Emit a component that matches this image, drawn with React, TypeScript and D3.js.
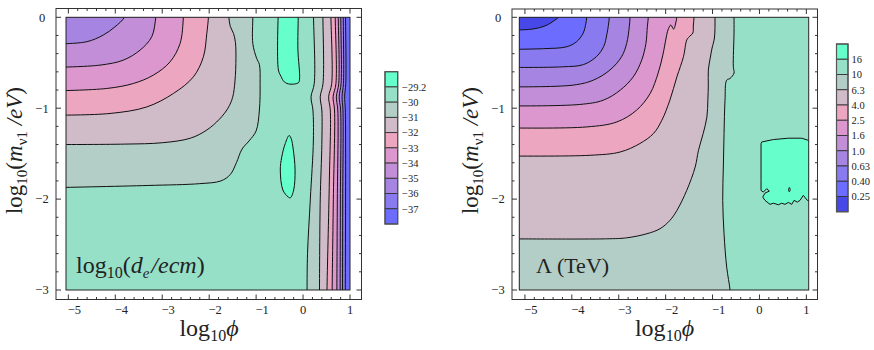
import React from 'react'
import * as d3 from 'd3'

type Pt = [number, number]

const FONT = '"Liberation Serif", "Times New Roman", Times, serif'

// band colours (shared by both colour bars)
const deepBlue = '#4848e8'
const blue = '#6c6cff'
const blueViolet = '#8a7af0'
const lavender = '#a684e2'
const purplePink = '#c28ed8'
const orchid = '#dc98ce'
const pink = '#eca6c0'
const pinkGrey = '#d0bcc8'
const greyTeal = '#b2cec6'
const lightTeal = '#96e0c8'
const aqua = '#66ffcc'

const xMajor = [-5, -4, -3, -2, -1, 0, 1]
const yMajor = [0, -1, -2, -3]

// ---- left panel: log10(d_e / e cm) ----
const edmLegendLabels = ['−29.2', '−30', '−31', '−32', '−33', '−34', '−35', '−36', '−37']
const edmLegendColors = [aqua, lightTeal, greyTeal, pinkGrey, pink, orchid, purplePink, lavender, blueViolet, blue]

// contours bending from the left edge round to the top edge, (log10 phi, log10 m)
const edmC30: Pt[] = [[-5.3, -1.874], [-3.3, -1.85], [-2.2, -1.83], [-1.75, -1.8], [-1.55, -1.73], [-1.42, -1.6], [-1.3, -1.45], [-1.15, -1.36], [-1.0, -1.25], [-0.93, -1.02], [-0.915, -0.73], [-0.93, -0.52], [-0.99, -0.45], [-1.07, -0.29], [-1.07, 0], [-1.07, 0.1]]
const edmC31: Pt[] = [[-5.3, -1.4], [-3.8, -1.395], [-3.0, -1.38], [-2.4, -1.33], [-2.05, -1.24], [-1.78, -1.12], [-1.6, -1.0], [-1.5, -0.88], [-1.45, -0.7], [-1.43, -0.45], [-1.44, -0.28], [-1.48, -0.18], [-1.55, -0.1], [-1.58, 0], [-1.585, 0.1]]
const edmC32: Pt[] = [[-5.3, -1.077], [-4.112, -1.058], [-3.329, -0.986], [-2.762, -0.838], [-2.336, -0.655], [-2.123, -0.434], [-2.05, -0.176], [-2.016, 0], [-2.01, 0.1]]
const edmC33: Pt[] = [[-5.3, -0.809], [-4.182, -0.783], [-3.615, -0.728], [-3.189, -0.636], [-2.833, -0.49], [-2.619, -0.287], [-2.549, 0], [-2.54, 0.1]]
const edmC34: Pt[] = [[-5.3, -0.551], [-4.325, -0.526], [-3.828, -0.471], [-3.472, -0.361], [-3.223, -0.214], [-3.137, 0], [-3.12, 0.1]]
const edmC35: Pt[] = [[-5.3, -0.294], [-4.61, -0.269], [-4.255, -0.195], [-4.005, -0.104], [-3.807, 0], [-3.77, 0.1]]

// near-vertical contours on the right, top to bottom
const edmR30: Pt[] = [[0.223, 0.1], [0.223, 0], [0.238, -0.73], [0.17, -0.875], [0.21, -1.02], [0.22, -1.35], [0.155, -2.0], [0.095, -2.6], [0.085, -3], [0.085, -3.1]]
const edmR31: Pt[] = [[0.423, 0.1], [0.423, 0], [0.425, -0.73], [0.366, -0.875], [0.4, -1.02], [0.4, -1.4], [0.366, -2.0], [0.35, -3], [0.35, -3.1]]
const edmR32: Pt[] = [[0.594, 0.1], [0.594, 0], [0.61, -0.73], [0.545, -0.875], [0.58, -1.02], [0.56, -1.8], [0.51, -3], [0.51, -3.1]]
const edmR33: Pt[] = [[0.685, 0.1], [0.685, 0], [0.7, -0.73], [0.64, -0.875], [0.67, -1.02], [0.645, -2], [0.62, -3], [0.62, -3.1]]
const edmR34: Pt[] = [[0.75, 0.1], [0.75, 0], [0.76, -0.73], [0.71, -0.875], [0.74, -1.02], [0.73, -2], [0.72, -3], [0.72, -3.1]]
const edmR35: Pt[] = [[0.803, 0.1], [0.803, 0], [0.81, -0.73], [0.77, -0.875], [0.8, -1.02], [0.795, -2], [0.79, -3], [0.79, -3.1]]
const edmR36: Pt[] = [[0.856, 0.1], [0.856, 0], [0.86, -0.73], [0.83, -0.875], [0.85, -1.02], [0.845, -2], [0.84, -3], [0.84, -3.1]]
const edmR37: Pt[] = [[0.905, 0.1], [0.905, 0], [0.91, -0.73], [0.885, -0.875], [0.9, -1.02], [0.9, -3], [0.9, -3.1]]

// islands above -29.2
const edmIslandTop: Pt[] = [[-0.525, 0.1], [-0.525, -0.58], [-0.47, -0.65], [-0.4, -0.71], [-0.28, -0.735], [-0.1, -0.72], [-0.075, -0.68], [-0.11, -0.35], [-0.103, 0], [-0.103, 0.1]]
const edmIslandLow: Pt[] = [[-0.295, -1.3], [-0.25, -1.34], [-0.21, -1.45], [-0.17, -1.68], [-0.2, -1.9], [-0.27, -1.985], [-0.32, -1.975], [-0.43, -1.9], [-0.485, -1.68], [-0.455, -1.54], [-0.38, -1.39]]

// ---- right panel: Lambda (TeV) ----
const lamLegendLabels = ['16', '10', '6.3', '4.0', '2.5', '1.6', '1.0', '0.63', '0.40', '0.25']
const lamLegendColors = [aqua, lightTeal, greyTeal, pinkGrey, pink, orchid, purplePink, lavender, blueViolet, blue, deepBlue]

const lamC025: Pt[] = [[-5.4, -0.14], [-4.85, -0.13], [-4.55, -0.09], [-4.36, -0.03], [-4.288, 0], [-4.26, 0.1]]
const lamC040: Pt[] = [[-5.4, -0.353], [-4.6, -0.345], [-4.11, -0.324], [-3.9, -0.269], [-3.76, -0.176], [-3.7, -0.066], [-3.683, 0], [-3.68, 0.1]]
const lamC063: Pt[] = [[-5.4, -0.551], [-4.2, -0.545], [-3.75, -0.52], [-3.47, -0.43], [-3.32, -0.32], [-3.25, -0.18], [-3.2, 0], [-3.19, 0.1]]
const lamC10: Pt[] = [[-5.4, -0.765], [-3.97, -0.746], [-3.54, -0.691], [-3.19, -0.581], [-2.94, -0.434], [-2.83, -0.287], [-2.775, -0.104], [-2.759, 0], [-2.755, 0.1]]
const lamC16: Pt[] = [[-5.4, -0.975], [-3.83, -0.959], [-3.33, -0.912], [-2.97, -0.802], [-2.69, -0.655], [-2.51, -0.471], [-2.42, -0.287], [-2.39, -0.104], [-2.37, 0], [-2.37, 0.1]]
const lamC25: Pt[] = [[-5.4, -1.217], [-3.68, -1.206], [-3.04, -1.151], [-2.62, -1.022], [-2.33, -0.838], [-2.16, -0.614], [-2.06, -0.416], [-1.99, -0.228], [-1.95, -0.14], [-1.89, -0.085], [-1.83, -0.13], [-1.78, -0.052], [-1.764, 0], [-1.76, 0.1]]
const lamC40: Pt[] = [[-5.4, -1.526], [-3.61, -1.518], [-2.97, -1.482], [-2.55, -1.389], [-2.26, -1.279], [-2.08, -1.132], [-1.91, -0.912], [-1.76, -0.655], [-1.62, -0.434], [-1.55, -0.25], [-1.5, -0.215], [-1.42, -0.173], [-1.41, -0.096], [-1.395, 0], [-1.39, 0.1]]
const lamC63: Pt[] = [[-5.4, -2.437], [-3.26, -2.437], [-2.83, -2.426], [-2.4, -2.381], [-2.12, -2.326], [-1.91, -2.235], [-1.76, -2.125], [-1.55, -1.904], [-1.37, -1.647], [-1.3, -1.463], [-1.2, -1.279], [-1.12, -1.096], [-1.1, -0.912], [-1.09, -0.746], [-1.09, -0.581], [-1.05, -0.449], [-1.01, -0.338], [-0.96, -0.228], [-0.947, 0], [-0.947, 0.1]]
const lamC100: Pt[] = [[-0.542, 0.1], [-0.542, 0], [-0.542, -0.173], [-0.557, -0.544], [-0.542, -0.614], [-0.627, -0.673], [-0.698, -0.691], [-0.734, -0.912], [-0.755, -1.279], [-0.77, -1.647], [-0.783, -2.014], [-0.755, -2.381], [-0.698, -2.75], [-0.627, -3], [-0.62, -3.1]]
const lamIsland: Pt[] = [[0.034, -1.389], [0.048, -1.372], [0.296, -1.345], [0.62, -1.33], [0.9, -1.33], [1.02, -1.35], [1.1, -1.37], [1.1, -2.014], [1.021, -2.014], [0.936, -1.959], [0.865, -2.014], [0.808, -2.033], [0.737, -2.014], [0.688, -2.058], [0.616, -2.036], [0.545, -2.058], [0.475, -2.045], [0.402, -2.062], [0.296, -2.045], [0.225, -2.058], [0.119, -2.014], [0.07, -1.978], [0.119, -1.934], [0.21, -1.912], [0.155, -1.885], [0.083, -1.923], [0.034, -1.904], [0.034, -1.794]]
const lamDot: Pt[] = [[0.62, -1.896], [0.637, -1.872], [0.655, -1.896], [0.637, -1.92]]

type Region = { pts: Pt[]; fill: string; to: 'topLeft' | 'right' | 'left' | 'closed'; smooth?: boolean }

const closers: Record<string, Pt[]> = {
  topLeft: [[-5.8, 0.3]],
  right: [[1.4, -3.3], [1.4, 0.3]],
  left: [[-5.8, -3.3], [-5.8, 0.3]],
  closed: [],
}

const edmRegions: Region[] = [
  { pts: edmC30, fill: greyTeal, to: 'topLeft' },
  { pts: edmC31, fill: pinkGrey, to: 'topLeft' },
  { pts: edmC32, fill: pink, to: 'topLeft' },
  { pts: edmC33, fill: orchid, to: 'topLeft' },
  { pts: edmC34, fill: purplePink, to: 'topLeft' },
  { pts: edmC35, fill: lavender, to: 'topLeft' },
  { pts: edmR30, fill: greyTeal, to: 'right' },
  { pts: edmR31, fill: pinkGrey, to: 'right' },
  { pts: edmR32, fill: pink, to: 'right' },
  { pts: edmR33, fill: orchid, to: 'right' },
  { pts: edmR34, fill: purplePink, to: 'right' },
  { pts: edmR35, fill: lavender, to: 'right' },
  { pts: edmR36, fill: blueViolet, to: 'right' },
  { pts: edmR37, fill: blue, to: 'right' },
  { pts: edmIslandTop, fill: aqua, to: 'topLeft' },
  { pts: edmIslandLow, fill: aqua, to: 'closed', smooth: true },
]

const lamRegions: Region[] = [
  { pts: lamC100, fill: greyTeal, to: 'left' },
  { pts: lamC63, fill: pinkGrey, to: 'topLeft' },
  { pts: lamC40, fill: pink, to: 'topLeft' },
  { pts: lamC25, fill: orchid, to: 'topLeft' },
  { pts: lamC16, fill: purplePink, to: 'topLeft' },
  { pts: lamC10, fill: lavender, to: 'topLeft' },
  { pts: lamC063, fill: blueViolet, to: 'topLeft' },
  { pts: lamC040, fill: blue, to: 'topLeft' },
  { pts: lamC025, fill: deepBlue, to: 'topLeft' },
  { pts: lamIsland, fill: aqua, to: 'closed', smooth: false },
  { pts: lamDot, fill: lightTeal, to: 'closed', smooth: true },
]

type Box = { left: number; right: number; top: number; bottom: number }

const fmt = (d: number) => (d < 0 ? `−${-d}` : `${d}`)

function Panel(props: {
  id: string
  xDomain: [number, number]
  plot: Box
  frame: Box
  regions: Region[]
  yLabelX: number
  yTitleX: number
  xTitleX: number
  inset: React.ReactNode
}) {
  const { id, xDomain, plot, frame, regions } = props
  const x = d3.scaleLinear().domain(xDomain).range([plot.left, plot.right])
  const y = d3.scaleLinear().domain([-3, 0]).range([plot.bottom, plot.top])

  const open = (smooth = true) =>
    d3.line<Pt>().x(d => x(d[0])).y(d => y(d[1]))
      .curve(smooth ? d3.curveCatmullRom.alpha(0.5) : d3.curveLinear)
  const shut = (smooth = true) =>
    d3.line<Pt>().x(d => x(d[0])).y(d => y(d[1]))
      .curve(smooth ? d3.curveCatmullRomClosed.alpha(0.5) : d3.curveLinearClosed)

  const fillPath = (r: Region) => {
    if (r.to === 'closed') return shut(r.smooth !== false)(r.pts) || ''
    const tail = closers[r.to].map(p => `L${x(p[0])},${y(p[1])}`).join('')
    return (open(r.smooth !== false)(r.pts) || '') + tail + 'Z'
  }
  const strokePath = (r: Region) =>
    r.to === 'closed' ? shut(r.smooth !== false)(r.pts) || '' : open(r.smooth !== false)(r.pts) || ''

  const xMinor = x.ticks(30).filter(t => t >= xDomain[0] && t <= xDomain[1])
  const yMinor = y.ticks(15)
  const tickColor = '#333'

  return (
    <g>
      <defs>
        <clipPath id={id}>
          <rect x={plot.left} y={plot.top} width={plot.right - plot.left} height={plot.bottom - plot.top} />
        </clipPath>
      </defs>
      <g clipPath={`url(#${id})`}>
        <rect x={plot.left} y={plot.top} width={plot.right - plot.left} height={plot.bottom - plot.top} fill={lightTeal} />
        {regions.map((r, i) => <path key={'f' + i} d={fillPath(r)} fill={r.fill} stroke="none" />)}
        {regions.map((r, i) => <path key={'s' + i} d={strokePath(r)} fill="none" stroke="#111" strokeWidth={1} />)}
      </g>
      <rect x={plot.left} y={plot.top} width={plot.right - plot.left} height={plot.bottom - plot.top} fill="none" stroke="#222" strokeWidth={1} />
      {props.inset}

      {/* frame and ticks */}
      <rect x={frame.left} y={frame.top} width={frame.right - frame.left} height={frame.bottom - frame.top} fill="none" stroke={tickColor} strokeWidth={1} />
      {xMinor.map((t, i) => {
        const major = xMajor.some(m => Math.abs(m - t) < 1e-6)
        const len = major ? 5 : 2.5
        return (
          <g key={'xt' + i} stroke={tickColor} strokeWidth={1}>
            <line x1={x(t)} x2={x(t)} y1={frame.bottom} y2={frame.bottom - len} />
            <line x1={x(t)} x2={x(t)} y1={frame.top} y2={frame.top + len} />
          </g>
        )
      })}
      {yMinor.map((t, i) => {
        const major = yMajor.some(m => Math.abs(m - t) < 1e-6)
        const len = major ? 5 : 2.5
        return (
          <g key={'yt' + i} stroke={tickColor} strokeWidth={1}>
            <line x1={frame.left} x2={frame.left + len} y1={y(t)} y2={y(t)} />
            <line x1={frame.right} x2={frame.right - len} y1={y(t)} y2={y(t)} />
          </g>
        )
      })}
      {xMajor.map(t => (
        <text key={'xl' + t} x={x(t) + (t < 0 ? 6 : 0)} y={313.5} textAnchor="middle" fontSize={12.5} fill="#222">{fmt(t)}</text>
      ))}
      {yMajor.map(t => (
        <text key={'yl' + t} x={props.yLabelX} y={y(t) + 4.3} textAnchor="middle" fontSize={12.5} fill="#222">{fmt(t)}</text>
      ))}

      {/* axis titles */}
      <text x={props.xTitleX} y={336} textAnchor="middle" fontSize={24} fill="#222">
        log<tspan dy={5} fontSize={16}>10</tspan><tspan dy={-5} fontStyle="italic">ϕ</tspan>
      </text>
      <text transform={`translate(${props.yTitleX},150.5) rotate(-90)`} textAnchor="middle" fontSize={23} fill="#222">
        log<tspan dy={5} fontSize={15}>10</tspan><tspan dy={-5}>(</tspan><tspan fontStyle="italic">m</tspan>
        <tspan dy={5} fontSize={15}>ν1</tspan><tspan dy={-5} fontStyle="italic"> /eV</tspan><tspan>)</tspan>
      </text>
    </g>
  )
}

function ColorBar({ colors, labels, left, top, cellW, cellH, labelX }: {
  colors: string[]; labels: string[]; left: number; top: number; cellW: number; cellH: number; labelX: number
}) {
  const yb = d3.scaleLinear().domain([0, colors.length]).range([top, top + colors.length * cellH])
  return (
    <g>
      {colors.map((c, i) => (
        <rect key={i} x={left} y={yb(i)} width={cellW} height={cellH} fill={c} stroke="#333" strokeWidth={0.9} />
      ))}
      <rect x={left} y={top} width={cellW} height={colors.length * cellH} fill="none" stroke="#555" strokeWidth={1.2} />
      {labels.map((l, i) => (
        <text key={l} x={labelX} y={yb(i + 1) + 3.8} fontSize={10.5} fill="#222">{l}</text>
      ))}
    </g>
  )
}

export default function App() {
  return (
    <div style={{ position: 'absolute', left: 0, top: 0 }}>
      <svg width={874} height={350} fontFamily={FONT} style={{ display: 'block', background: '#fff', fontFamily: FONT }}>
        <Panel
          id="clipEdm"
          xDomain={[-5.05, 1.0]}
          plot={{ left: 66, right: 350, top: 17.3, bottom: 290 }}
          frame={{ left: 56, right: 361.5, top: 8.5, bottom: 299.5 }}
          regions={edmRegions}
          yLabelX={42}
          yTitleX={22}
          xTitleX={209}
          inset={
            <text x={76} y={273} fontSize={24} fill="#222">
              log<tspan dy={5} fontSize={16}>10</tspan><tspan dy={-5}>(</tspan><tspan fontStyle="italic">d</tspan>
              <tspan dy={5} fontSize={15} fontStyle="italic">e</tspan><tspan dy={-5} dx={2} fontStyle="italic">/ecm</tspan><tspan>)</tspan>
            </text>
          }
        />
        <ColorBar colors={edmLegendColors} labels={edmLegendLabels} left={385} top={71.7} cellW={12.7} cellH={15.23} labelX={402} />

        <Panel
          id="clipLam"
          xDomain={[-5.12, 1.05]}
          plot={{ left: 519.3, right: 808.7, top: 17.3, bottom: 290 }}
          frame={{ left: 512, right: 817.5, top: 9, bottom: 299.5 }}
          regions={lamRegions}
          yLabelX={498}
          yTitleX={478}
          xTitleX={664.5}
          inset={<text x={536} y={273} fontSize={22} fill="#222">Λ (TeV)</text>}
        />
        <ColorBar colors={lamLegendColors} labels={lamLegendLabels} left={836.5} top={44} cellW={11.5} cellH={15.25} labelX={851.5} />
      </svg>
    </div>
  )
}
